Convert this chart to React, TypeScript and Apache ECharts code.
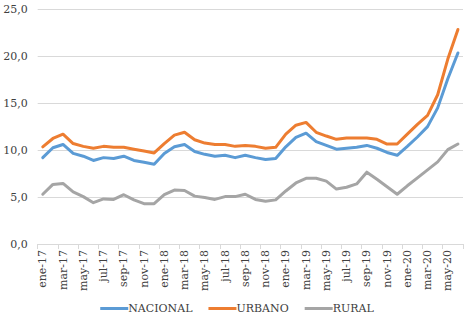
import React, { useEffect, useRef } from "react";
import * as echarts from "echarts";

const categories = [
  "ene-17","feb-17","mar-17","abr-17","may-17","jun-17","jul-17","ago-17","sep-17","oct-17","nov-17","dic-17",
  "ene-18","feb-18","mar-18","abr-18","may-18","jun-18","jul-18","ago-18","sep-18","oct-18","nov-18","dic-18",
  "ene-19","feb-19","mar-19","abr-19","may-19","jun-19","jul-19","ago-19","sep-19","oct-19","nov-19","dic-19",
  "ene-20","feb-20","mar-20","abr-20","may-20","jun-20",
];

const nacional = [
  9.2, 10.25, 10.6, 9.65, 9.35, 8.9, 9.2, 9.1, 9.35, 8.9, 8.7, 8.5,
  9.65, 10.35, 10.6, 9.85, 9.55, 9.35, 9.45, 9.2, 9.45, 9.2, 9.0, 9.1,
  10.35, 11.35, 11.8, 10.9, 10.5, 10.1, 10.2, 10.3, 10.5, 10.2, 9.75, 9.45,
  10.4, 11.4, 12.5, 14.5, 17.6, 20.35,
];

const urbano = [
  10.35, 11.24, 11.7, 10.7, 10.4, 10.2, 10.4, 10.3, 10.3, 10.1, 9.9, 9.7,
  10.7, 11.6, 11.9, 11.1, 10.75, 10.6, 10.6, 10.4, 10.5, 10.4, 10.2, 10.3,
  11.7, 12.65, 12.95, 11.9, 11.5, 11.15, 11.3, 11.3, 11.3, 11.15, 10.65, 10.65,
  11.7, 12.75, 13.7, 15.9, 19.7, 22.85,
];

const rural = [
  5.3, 6.35, 6.45, 5.55, 5.05, 4.4, 4.8, 4.75, 5.25, 4.7, 4.3, 4.3,
  5.25, 5.75, 5.7, 5.1, 4.95, 4.75, 5.05, 5.05, 5.3, 4.75, 4.55, 4.7,
  5.65, 6.5, 7.0, 7.0, 6.7, 5.85, 6.05, 6.4, 7.65, 6.9, 6.1, 5.3,
  6.2, 7.05, 7.9, 8.75, 10.05, 10.65,
];

const seriesNames = ["NACIONAL", "URBANO", "RURAL"];
const seriesColors = ["#5B9BD5", "#ED7D31", "#A5A5A5"];

const FONT = "DejaVu Serif";
const TEXT = "#404040";

export default function App() {
  const ref = useRef<HTMLDivElement>(null);

  useEffect(() => {
    document.body.style.margin = "0";
    if (!ref.current) return;
    const chart = echarts.init(ref.current, null, { renderer: "svg" });
    const data = [nacional, urbano, rural];
    chart.setOption({
      animation: false,
      backgroundColor: "#ffffff",
      textStyle: { fontFamily: FONT },
      grid: { left: 37.7, right: 11, top: 9.3, bottom: 75, containLabel: false },
      legend: {
        bottom: 0,
        left: "center",
        icon: "rect",
        itemWidth: 28,
        itemHeight: 3,
        itemGap: 16,
        data: seriesNames,
        textStyle: { fontFamily: FONT, fontSize: 11, color: TEXT, padding: [0, 0, 0, -5] },
      },
      xAxis: {
        type: "category",
        data: categories,
        boundaryGap: true,
        axisLine: { show: true, lineStyle: { color: "#D9D9D9", width: 1 } },
        axisTick: { show: true, interval: 1, length: 5, lineStyle: { color: "#D9D9D9" } },
        axisLabel: {
          interval: 1,
          rotate: 90,
          margin: 6,
          fontFamily: FONT,
          fontSize: 11,
          color: TEXT,
        },
        splitLine: { show: false },
      },
      yAxis: {
        type: "value",
        min: 0,
        max: 25,
        interval: 5,
        axisLine: { show: false },
        axisTick: { show: false },
        axisLabel: {
          margin: 10,
          fontFamily: FONT,
          fontSize: 11,
          color: TEXT,
          formatter: (v: number) => v.toFixed(1).replace(".", ","),
        },
        splitLine: { show: true, lineStyle: { color: "#D9D9D9", width: 1 } },
      },
      series: seriesNames.map((name, k) => ({
        name,
        type: "line",
        data: data[k],
        symbol: "none",
        smooth: false,
        color: seriesColors[k],
        itemStyle: { color: seriesColors[k] },
        lineStyle: { color: seriesColors[k], width: 3, join: "round", cap: "round" },
      })),
    });
    return () => chart.dispose();
  }, []);

  return <div ref={ref} style={{ width: 474, height: 319 }} />;
}
